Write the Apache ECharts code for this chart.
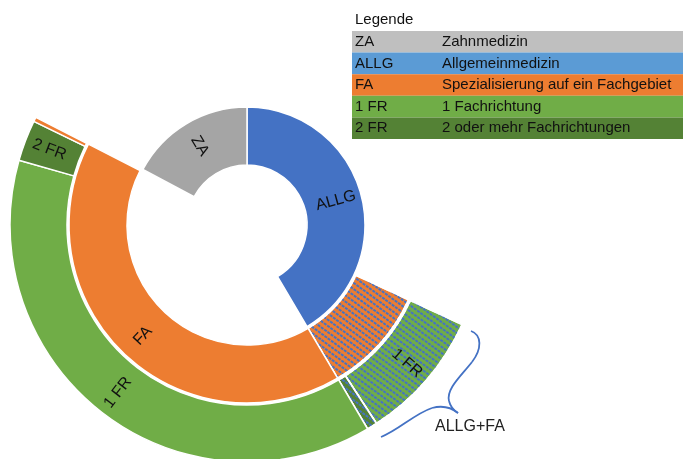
<!DOCTYPE html>
<html>
<head>
<meta charset="utf-8">
<script src="https://cdn.jsdelivr.net/npm/echarts@6/dist/echarts.min.js"></script>
<style>
  html, body { margin: 0; padding: 0; background: #fff; }
  #chart { width: 683px; height: 459px; }
</style>
</head>
<body>
<div id="chart"></div>
<script>
// shares of the full circle (%), clockwise from 12 o'clock; '' marks an empty gap
const innerNames = ['ALLG', '', 'ZA'];
const innerValues = [41.5, 41.3, 17.2];

const middleNames = ['', 'ALLG+FA', 'FA', ''];
const middleValues = [31.9, 9.6, 41.0, 17.5];

const outerNames = ['', '1 FR', '2 FR', '1 FR', '2 FR', 'FA', ''];
const outerParents = ['', 'ALLG+FA', 'ALLG+FA', 'FA', 'FA', 'FA', ''];
const outerValues = [31.9, 8.9, 0.7, 37.9, 2.8, 0.3, 17.5];

const legendCodes = ['ZA', 'ALLG', 'FA', '1 FR', '2 FR'];
const legendTexts = [
  'Zahnmedizin',
  'Allgemeinmedizin',
  'Spezialisierung auf ein Fachgebiet',
  '1 Fachrichtung',
  '2 oder mehr Fachrichtungen'
];

const colors = {
  'ZA': '#A5A5A5',
  'ALLG': '#4472C4',
  'FA': '#ED7D31',
  'ALLG+FA': '#ED7D31',
  '1 FR': '#70AD47',
  '2 FR': '#548235'
};
const legendColors = ['#BFBFBF', '#5B9BD5', '#ED7D31', '#70AD47', '#548235'];

const font = "'Liberation Sans', Arial, sans-serif";

// blue dashed downward diagonal over the shared ALLG+FA part
const hatch = {
  symbol: 'rect',
  symbolSize: 1,
  symbolKeepAspect: false,
  color: '#4472C4',
  dashArrayX: [3, 1],
  dashArrayY: [1.5, 3],
  rotation: Math.PI / 5
};

function ringData(names, values, parents) {
  return names.map((name, i) => {
    if (!name) {
      return {
        name: 'gap' + i,
        value: values[i],
        itemStyle: { color: 'transparent', borderWidth: 0 },
        label: { show: false }
      };
    }
    const hatched = name === 'ALLG+FA' || (parents && parents[i] === 'ALLG+FA');
    const item = {
      name: name,
      value: values[i],
      itemStyle: { color: colors[name] },
      label: { show: values[i] > 2 && name !== 'ALLG+FA' }
    };
    if (hatched) item.itemStyle.decal = hatch;
    return item;
  });
}

function ring(radius, data) {
  return {
    type: 'pie',
    center: [247, 225],
    radius: radius,
    startAngle: 90,
    clockwise: true,
    silent: true,
    avoidLabelOverlap: false,
    itemStyle: { borderColor: '#fff', borderWidth: 1.5 },
    label: {
      position: 'inside',
      rotate: 'radial',
      formatter: '{b}',
      color: '#111',
      fontSize: 16,
      fontFamily: font
    },
    labelLine: { show: false },
    emphasis: { disabled: true },
    data: data
  };
}

const chart = echarts.init(document.getElementById('chart'));

const graphics = [
  {
    type: 'text',
    x: 355,
    y: 12,
    style: { text: 'Legende', fontSize: 15, fontFamily: font, fill: '#111' }
  }
];
const rowH = 21.6;
legendCodes.forEach((code, i) => {
  const y = 31 + i * rowH;
  graphics.push({
    type: 'rect',
    shape: { x: 352, y: y, width: 340, height: rowH },
    style: { fill: legendColors[i] }
  });
  graphics.push({
    type: 'text',
    x: 355,
    y: y + rowH / 2,
    style: { text: code, fontSize: 15, fontFamily: font, fill: '#111', verticalAlign: 'middle' }
  });
  graphics.push({
    type: 'text',
    x: 442,
    y: y + rowH / 2,
    style: { text: legendTexts[i], fontSize: 15, fontFamily: font, fill: '#111', verticalAlign: 'middle' }
  });
});

// curly brace marking the ALLG+FA part
const braceStyle = { fill: null, stroke: '#4472C4', lineWidth: 1.8 };
const braceParts = [
  { x1: 471, y1: 331, cpx1: 482, cpy1: 335, cpx2: 482, cpy2: 349, x2: 472, y2: 362 },
  { x1: 472, y1: 362, cpx1: 461, cpy1: 376, cpx2: 446, cpy2: 389, x2: 449, y2: 401 },
  { x1: 449, y1: 401, cpx1: 451, cpy1: 409, x2: 458, y2: 413 },
  { x1: 458, y1: 413, cpx1: 447, cpy1: 404, x2: 432, y2: 408 },
  { x1: 432, y1: 408, cpx1: 414, cpy1: 414, cpx2: 399, cpy2: 430, x2: 381, y2: 437 }
];
braceParts.forEach((shape) => {
  graphics.push({ type: 'bezierCurve', shape: shape, style: braceStyle });
});
graphics.push({
  type: 'text',
  x: 435,
  y: 419,
  style: { text: 'ALLG+FA', fontSize: 16, fontFamily: font, fill: '#222' }
});

chart.setOption({
  animation: false,
  series: [
    ring([60, 118], ringData(innerNames, innerValues)),
    ring([120, 178], ringData(middleNames, middleValues)),
    ring([180, 237], ringData(outerNames, outerValues, outerParents))
  ],
  graphic: graphics
});
</script>
</body>
</html>
